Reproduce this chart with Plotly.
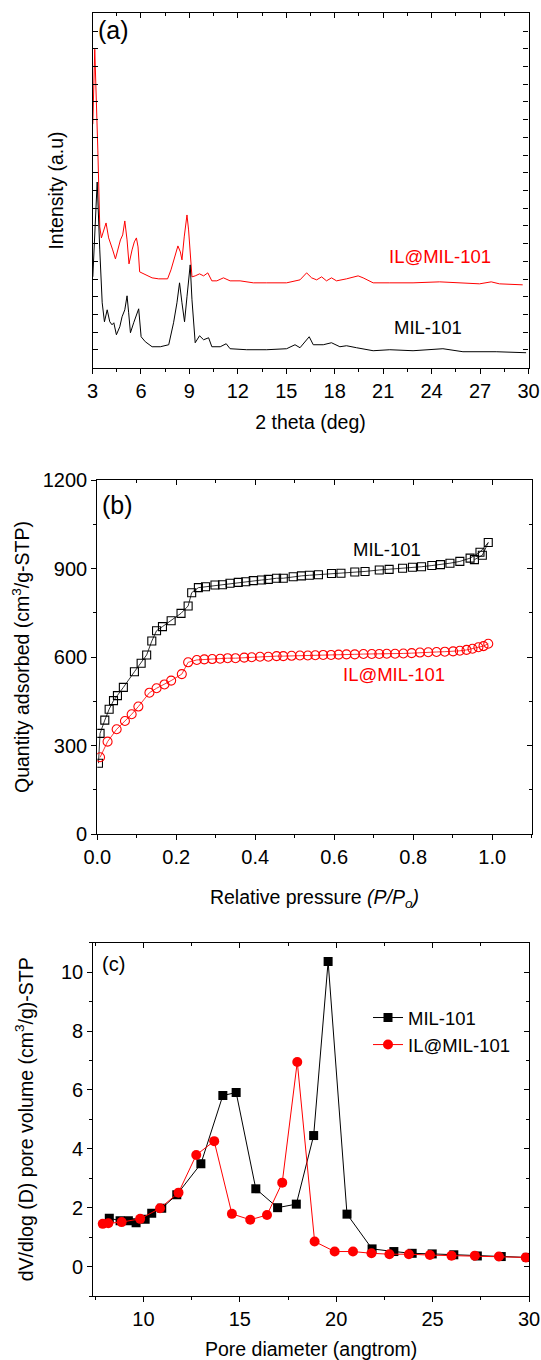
import plotly.graph_objects as go

FONT = "Liberation Sans, Arial, sans-serif"
RED = "#ff0000"

# (a) XRD patterns: 2 theta (deg) / intensity (a.u.)
xrd_il_deg = [3.02, 3.14, 3.33, 3.45, 3.55, 3.70, 3.84, 4.00, 4.15, 4.25, 4.42, 4.57, 4.73, 4.87,
              5.00, 5.14, 5.26, 5.45, 5.59, 5.72, 5.82, 5.92, 6.17, 6.36, 6.69, 7.10, 7.65, 7.86,
              8.02, 8.29, 8.44, 8.54, 8.68, 8.85, 8.95, 9.05, 9.16, 9.36, 9.63, 9.88, 10.14, 10.39,
              10.70, 11.11, 11.52, 12.14, 12.96, 13.79, 15.02, 15.85, 16.26, 16.57, 16.88, 17.19,
              17.49, 17.80, 18.11, 18.73, 19.45, 19.76, 20.38, 21.41, 22.85, 24.50, 25.53, 26.97,
              27.69, 28.20, 29.64]
xrd_il_int = [244, 319, 218, 141, 130, 138, 145, 130, 124, 118, 109, 118, 128, 133,
              147, 128, 104, 118, 126, 130, 121, 96, 94, 92, 90, 89, 89, 98,
              108, 122, 116, 108, 131, 153, 138, 118, 91, 92, 94, 92, 95, 87,
              87, 90, 87, 87, 85, 85, 85, 88, 95, 90, 88, 91,
              87, 90, 87, 89, 92, 90, 85, 85, 85, 86, 85, 84,
              86, 84, 83]

xrd_mil_deg = [3.02, 3.29, 3.45, 3.60, 3.74, 3.91, 4.07, 4.21, 4.32, 4.48, 4.69, 4.83, 5.00, 5.14,
               5.24, 5.35, 5.55, 5.72, 5.86, 6.01, 6.27, 6.69, 7.20, 7.72, 8.02, 8.23, 8.39, 8.54,
               8.70, 8.85, 9.05, 9.16, 9.36, 9.63, 9.88, 10.19, 10.39, 10.91, 11.28, 11.52, 12.55,
               13.79, 15.02, 15.54, 15.85, 16.42, 16.67, 17.29, 17.80, 18.32, 18.73, 19.35, 20.38,
               21.41, 22.85, 24.70, 25.94, 28.00, 29.85]
xrd_mil_int = [91, 186, 118, 65, 46, 58, 46, 43, 45, 33, 41, 51, 58, 72,
               55, 35, 45, 53, 59, 31, 26, 21, 21, 23, 45, 65, 85, 65,
               46, 71, 103, 68, 25, 32, 28, 30, 21, 21, 24, 19, 18,
               18, 19, 23, 20, 31, 23, 23, 25, 21, 22, 20, 17,
               18, 17, 19, 16, 16, 15]

# (b) N2 isotherms: relative pressure / quantity adsorbed (cm3/g-STP)
iso_mil_p = [0.003, 0.007, 0.019, 0.030, 0.041, 0.051, 0.066, 0.094, 0.111, 0.125, 0.138, 0.150,
             0.165, 0.187, 0.212, 0.230, 0.239, 0.256, 0.274, 0.298, 0.317, 0.336, 0.357, 0.376,
             0.395, 0.416, 0.433, 0.454, 0.471, 0.496, 0.517, 0.537, 0.560, 0.593, 0.617, 0.652,
             0.678, 0.714, 0.739, 0.773, 0.798, 0.821, 0.847, 0.869, 0.893, 0.918, 0.944, 0.969,
             0.990, 0.975, 0.955]
iso_mil_q = [240, 341, 386, 423, 452, 469, 497, 550, 579, 607, 654, 689,
             703, 723, 748, 773, 818, 835, 838, 844, 845, 850, 853, 855,
             859, 861, 863, 867, 867, 872, 875, 877, 879, 883, 884, 888,
             890, 895, 897, 901, 904, 906, 910, 913, 918, 924, 935, 955,
             988, 945, 930]

iso_il_p = [0.007, 0.026, 0.049, 0.070, 0.087, 0.104, 0.132, 0.150, 0.170, 0.187, 0.214, 0.230,
            0.252, 0.271, 0.291, 0.311, 0.330, 0.350, 0.372, 0.391, 0.412, 0.433, 0.454, 0.471,
            0.492, 0.513, 0.533, 0.552, 0.572, 0.592, 0.611, 0.631, 0.652, 0.674, 0.695, 0.714,
            0.733, 0.754, 0.775, 0.796, 0.817, 0.838, 0.859, 0.880, 0.901, 0.918, 0.935, 0.950,
            0.965, 0.978, 0.990]
iso_il_q = [260, 313, 355, 383, 406, 432, 479, 494, 507, 520, 542, 582,
            590, 592, 593, 594, 596, 596, 598, 599, 601, 601, 603, 603,
            604, 605, 605, 606, 607, 607, 608, 609, 609, 610, 610, 610,
            611, 611, 612, 613, 615, 616, 617, 618, 619, 621, 624, 628,
            633, 637, 645]

# (c) pore size distribution: pore diameter (angstrom) / dV/dlog(D)
psd_mil_d = [8.23, 8.79, 9.22, 9.62, 10.09, 10.43, 10.95, 11.73, 12.98, 14.12, 14.81, 15.83,
             16.96, 17.93, 18.83, 19.58, 20.56, 21.86, 22.99, 23.94, 24.98, 26.10, 27.32, 28.56,
             29.91]
psd_mil_v = [1.64, 1.56, 1.56, 1.49, 1.61, 1.81, 1.98, 2.44, 3.49, 5.81, 5.91, 2.64,
             2.00, 2.12, 4.45, 10.36, 1.78, 0.60, 0.51, 0.45, 0.43, 0.40, 0.36, 0.34,
             0.31]
psd_il_d = [7.89, 8.18, 8.87, 9.83, 10.86, 11.82, 12.74, 13.67, 14.59, 15.54, 16.41, 17.20,
            17.98, 18.88, 19.92, 20.87, 21.83, 22.76, 23.77, 24.86, 25.98, 27.19, 28.44, 29.83]
psd_il_v = [1.45, 1.47, 1.51, 1.62, 1.98, 2.51, 3.79, 4.26, 1.79, 1.59, 1.75, 2.85,
            6.95, 0.85, 0.51, 0.51, 0.45, 0.42, 0.42, 0.39, 0.37, 0.37, 0.34, 0.31]

W, H = 541, 1360


def px(x):
    return x / W


def py(y):
    return 1 - y / H


fig = go.Figure()

# panel (a)
fig.add_trace(go.Scatter(x=xrd_il_deg, y=xrd_il_int, mode="lines", line=dict(color=RED, width=1),
                         xaxis="x", yaxis="y", showlegend=False))
fig.add_trace(go.Scatter(x=xrd_mil_deg, y=xrd_mil_int, mode="lines", line=dict(color="black", width=1),
                         xaxis="x", yaxis="y", showlegend=False))

# panel (b)
fig.add_trace(go.Scatter(x=iso_mil_p, y=iso_mil_q, mode="lines+markers",
                         line=dict(color="black", width=0.8),
                         marker=dict(symbol="square-open", size=8, color="black", line=dict(width=1.1)),
                         xaxis="x2", yaxis="y2", showlegend=False))
fig.add_trace(go.Scatter(x=iso_il_p, y=iso_il_q, mode="lines+markers",
                         line=dict(color=RED, width=0.8),
                         marker=dict(symbol="circle-open", size=9, color=RED, line=dict(width=1.1)),
                         xaxis="x2", yaxis="y2", showlegend=False))

# panel (c)
fig.add_trace(go.Scatter(x=psd_mil_d, y=psd_mil_v, mode="lines+markers", name="MIL-101",
                         line=dict(color="black", width=1),
                         marker=dict(symbol="square", size=9, color="black"),
                         xaxis="x3", yaxis="y3"))
fig.add_trace(go.Scatter(x=psd_il_d, y=psd_il_v, mode="lines+markers", name="IL@MIL-101",
                         line=dict(color=RED, width=1),
                         marker=dict(symbol="circle", size=10, color=RED),
                         xaxis="x3", yaxis="y3"))

axis_common = dict(showline=True, linecolor="black", linewidth=1.3, showgrid=False, zeroline=False,
                   tickcolor="black", tickwidth=1.1, ticklen=5, automargin=False,
                   tickfont=dict(family=FONT, size=20, color="black"))

panels = [
    # (xdomain, ydomain, xrange, yrange, xdtick, xminor, ydtick, yminor, yticks, ylabels, xfmt)
    ([px(92.5), px(528.5)], [py(367.7), py(13.3)], [3, 30], [0, 355], 3, 1.5, 17.75, None, "inside", False, ""),
    ([px(97.3), px(531.7)], [py(834), py(480)], [0, 1.1], [0, 1200], 0.2, 0.1, 300, 150, "outside", True, ".1f"),
    ([px(93.3), px(529)], [py(1296), py(942.7)], [7.4, 30], [-1, 11], 5, 2.5, 2, 1, "outside", True, ""),
]

xtitles = ["2 theta (deg)", "Relative pressure <i>(P/P<sub>o</sub>)</i>", "Pore diameter (angtrom)"]
ytitles = ["Intensity (a.u)", "Quantity adsorbed (cm<sup>3</sup>/g-STP)",
           "dV/dlog (D) pore volume (cm<sup>3</sup>/g)-STP"]
xstand = [14, 23, 14]
ystand = [22, 7, 22]

layout = dict(width=W, height=H, margin=dict(l=0, r=0, t=0, b=0),
              paper_bgcolor="white", plot_bgcolor="white",
              font=dict(family=FONT, size=18, color="black"))

for i, (xd, yd, xr, yr, xdt, xmn, ydt, ymn, yt, ylab, xfmt) in enumerate(panels):
    n = i + 1
    xs, ys = ("" if n == 1 else str(n)), ("" if n == 1 else str(n))
    t0 = xr[0] if n != 3 else 0
    layout["xaxis" + xs] = dict(axis_common, domain=xd, range=xr, anchor="y" + ys, tick0=t0,
                                dtick=xdt, ticks="outside", tickformat=xfmt,
                                minor=dict(dtick=xmn, ticks="outside", ticklen=3, tickcolor="black"),
                                title=dict(text=xtitles[i], standoff=xstand[i],
                                           font=dict(family=FONT, size=19.5)))
    yax = dict(axis_common, domain=yd, range=yr, anchor="x" + xs, tick0=0, dtick=ydt, ticks=yt,
               showticklabels=ylab,
               title=dict(text=ytitles[i], standoff=ystand[i], font=dict(family=FONT, size=19.5)))
    if ymn:
        yax["minor"] = dict(ticks=yt, ticklen=3, tickcolor="black", dtick=ymn)
    layout["yaxis" + ys] = yax
    # mirrored top / right axes with inward ticks
    layout["xaxis" + str(n + 3)] = dict(axis_common, domain=xd, range=xr, anchor="y" + ys,
                                        overlaying="x" + xs, side="top", tick0=t0,
                                        dtick=xdt, ticks="inside", showticklabels=False,
                                        minor=dict(dtick=xmn, ticks="inside", ticklen=3, tickcolor="black"))
    ymir = dict(axis_common, domain=yd, range=yr, anchor="x" + xs, overlaying="y" + ys, side="right",
                tick0=0, dtick=ydt, ticks="inside", showticklabels=False)
    if ymn:
        ymir["minor"] = dict(dtick=ymn, ticks="inside", ticklen=3, tickcolor="black")
    layout["yaxis" + str(n + 3)] = ymir

fig.update_layout(**layout)

# dummy traces so the mirror axes are drawn
for n in (4, 5, 6):
    fig.add_trace(go.Scatter(x=[None], y=[None], xaxis="x" + str(n), yaxis="y" + str(n),
                             showlegend=False, hoverinfo="skip"))

fig.update_layout(
    legend=dict(x=px(368), y=py(999), xanchor="left", yanchor="top", bgcolor="rgba(0,0,0,0)",
                font=dict(family=FONT, size=18.5), tracegroupgap=0),
    annotations=[
        dict(text="(a)", x=px(96), y=py(14), xref="paper", yref="paper", xanchor="left", yanchor="top",
             showarrow=False, font=dict(size=25)),
        dict(text="(b)", x=px(100), y=py(489), xref="paper", yref="paper", xanchor="left", yanchor="top",
             showarrow=False, font=dict(size=25)),
        dict(text="(c)", x=px(100), y=py(951), xref="paper", yref="paper", xanchor="left", yanchor="top",
             showarrow=False, font=dict(size=20)),
        dict(text="IL@MIL-101", x=24.54, y=111, xref="x", yref="y", showarrow=False,
             font=dict(size=18.5, color=RED)),
        dict(text="MIL-101", x=23.8, y=40, xref="x", yref="y", showarrow=False,
             font=dict(size=18.5, color="black")),
        dict(text="MIL-101", x=0.733, y=963, xref="x2", yref="y2", showarrow=False,
             font=dict(size=18.5, color="black")),
        dict(text="IL@MIL-101", x=0.751, y=539, xref="x2", yref="y2", showarrow=False,
             font=dict(size=18.5, color=RED)),
    ],
)

fig.write_html("out.html", config={"displayModeBar": False},
               post_script="document.body.style.margin='0';document.body.style.overflow='hidden';")
